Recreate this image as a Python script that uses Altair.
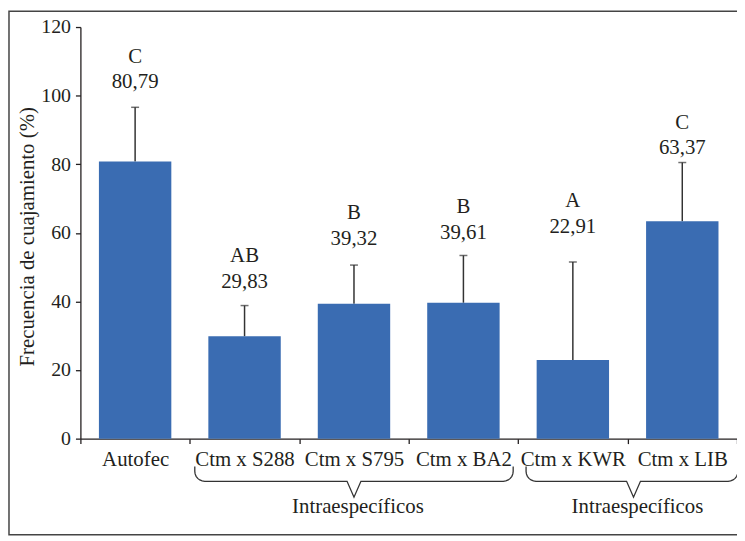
import math
import altair as alt
import pandas as pd

# ---- data ----
categories = ["Autofec", "Ctm x S288", "Ctm x S795", "Ctm x BA2", "Ctm x KWR", "Ctm x LIB"]
means = [80.79, 29.83, 39.32, 39.61, 22.91, 63.37]
upper = [96.6, 38.8, 50.6, 53.4, 51.5, 80.5]
letters = ["C", "AB", "B", "B", "A", "C"]
label_y = [102.1, 44.0, 56.6, 58.3, 59.9, 82.9]
y_ticks = [0, 20, 40, 60, 80, 100, 120]
group_names = ["Intraespecíficos", "Intraespecíficos"]

W, H = 662, 415
FONT = "Liberation Serif"
INK = "#231f20"
BLUE = "#3a6cb2"

df = pd.DataFrame({
    "cat": categories,
    "mean": means,
    "upper": upper,
    "letter": letters,
    "label": [f"{v:.2f}".replace(".", ",") for v in means],
    "label_y": label_y,
})

x_enc = alt.X(
    "cat:N", sort=categories,
    scale=alt.Scale(paddingInner=0, paddingOuter=0),
    axis=alt.Axis(title=None, labelAngle=0, tickBand="extent", tickSize=5,
                  labelPadding=22, labelBaseline="alphabetic", labelFontSize=21,
                  labelOverlap=False, labelLimit=300),
)
y_scale = alt.Scale(domain=[0, 120], nice=False, zero=True)

base = alt.Chart(df)

rules = base.mark_rule(color="#333333", strokeWidth=1.5).encode(
    x=x_enc,
    y=alt.Y("mean:Q", scale=y_scale,
            axis=alt.Axis(values=y_ticks, format="d", title="Frecuencia de cuajamiento (%)",
                          tickSize=5, labelPadding=5, labelFontSize=20, titleFontSize=21,
                          titleFontWeight="normal", titleAngle=270, titleAlign="center",
                          titleBaseline="alphabetic", titleX=-47, titleY=211)),
    y2="upper:Q",
)
bars = base.mark_bar(size=73, color=BLUE).encode(x=x_enc, y=alt.Y("mean:Q", scale=y_scale))
caps = base.mark_tick(size=8, thickness=1.5, orient="horizontal", color="#333333").encode(
    x=x_enc, y=alt.Y("upper:Q", scale=y_scale))
values_txt = base.mark_text(baseline="alphabetic", fontSize=21, font=FONT, color=INK).encode(
    x=x_enc, y=alt.Y("label_y:Q", scale=y_scale), text="label:N")
letters_txt = base.mark_text(baseline="alphabetic", fontSize=21, font=FONT, color=INK, dy=-26).encode(
    x=x_enc, y=alt.Y("label_y:Q", scale=y_scale), text="letter:N")

main = alt.layer(rules, bars, caps, values_txt, letters_txt)

# ---- decoration: braces under the grouped labels (pixel space) ----
s = W / 6
y_top, y_h, y_tip, y_txt = 443, 458, 474, 490
r = 10


def brace(x0, x1, xm, bid):
    pts = [(x0, y_top), (x0, y_h - r)]
    for k in range(1, 7):
        t = math.pi - k * (math.pi / 2) / 6
        pts.append((x0 + r + r * math.cos(t), y_h - r + r * math.sin(t)))
    pts += [(xm - 7, y_h), (xm, y_tip), (xm + 7, y_h), (x1 - r, y_h)]
    for k in range(1, 7):
        t = math.pi / 2 - k * (math.pi / 2) / 6
        pts.append((x1 - r + r * math.cos(t), y_h - r + r * math.sin(t)))
    pts.append((x1, y_top))
    return [{"px": p[0], "py": p[1], "ord": i, "bid": bid} for i, p in enumerate(pts)]


braces = brace(s * 1 + 5, s * 4 - 5, s * 2.5, 0) + brace(s * 4 + 8, s * 6 + 1, s * 5 + 6, 1)
bdf = pd.DataFrame(braces)
tdf = pd.DataFrame({"px": [s * 2.5 + 4, s * 5 + 10], "py": [y_txt, y_txt], "t": group_names})

px_scale = alt.Scale(domain=[0, W], nice=False, zero=False)
py_scale = alt.Scale(domain=[0, H], nice=False, zero=False, reverse=True)

brace_lines = alt.Chart(bdf).mark_line(color="#333333", strokeWidth=1.3).encode(
    x=alt.X("px:Q", scale=px_scale, axis=None),
    y=alt.Y("py:Q", scale=py_scale, axis=None),
    order="ord:Q",
    detail="bid:N",
)
brace_text = alt.Chart(tdf).mark_text(baseline="alphabetic", fontSize=21, font=FONT, color=INK).encode(
    x=alt.X("px:Q", scale=px_scale, axis=None),
    y=alt.Y("py:Q", scale=py_scale, axis=None),
    text="t:N",
)
border = alt.Chart(pd.DataFrame({"a": [0]})).mark_rect(
    filled=False, stroke="#444444", strokeWidth=1.5).encode(
    x=alt.value(-72), x2=alt.value(W + 20), y=alt.value(-16), y2=alt.value(512))

deco = alt.layer(brace_lines, brace_text, border)

chart = alt.layer(main, deco).resolve_scale(x="independent", y="independent").properties(
    width=W, height=H,
    autosize=alt.AutoSizeParams(type="none"),
    padding={"left": 73, "top": 17, "right": 0, "bottom": 100},
).configure_view(stroke=None).configure_axis(
    labelFont=FONT, titleFont=FONT, labelColor=INK, titleColor=INK,
    domainColor=INK, tickColor=INK, domainWidth=1.3, tickWidth=1.3, grid=False,
).configure_text(font=FONT)

chart.save("out.html", embed_options={"renderer": "svg", "actions": False})
